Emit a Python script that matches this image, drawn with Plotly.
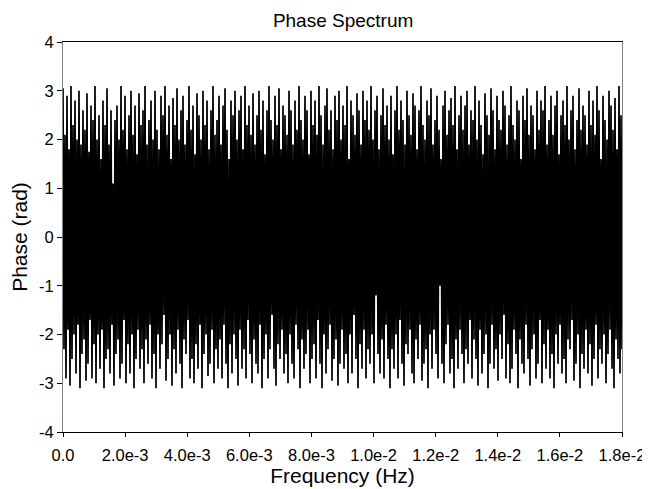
import numpy as np
import plotly.graph_objects as go

# Frequency range of the spectrum (Hz)
f_start = 0.0
f_stop = 0.018

# Upper excursions of the phase trace (rad), read left to right
phase_peaks = [
    3.05, 2.1, 2.9, 1.8, 3.1, 2.3, 2.8, 2.0, 3.0, 1.9, 2.6, 2.2, 2.95, 1.75, 2.7, 2.4, 3.1, 2.0, 2.5, 1.6,
    2.8, 2.3, 3.05, 1.9, 2.6, 1.1, 2.4, 2.7, 2.0, 3.1, 2.2, 2.9, 1.8, 2.5, 3.0, 2.1, 2.7, 1.7, 2.95, 2.3,
    2.6, 3.1, 1.9, 2.4, 2.8, 2.0, 3.0, 2.2, 1.8, 2.9, 2.5, 3.1, 2.1, 2.7, 1.6, 2.85, 2.3, 3.05, 2.0, 2.6,
    2.9, 1.9, 2.4, 3.1, 2.2, 2.7, 1.7, 2.95, 2.5, 2.0, 3.0, 2.3, 2.8, 1.8, 2.6, 3.1, 2.1, 2.4, 2.9, 1.9,
    2.7, 3.05, 2.2, 1.6, 2.8, 2.5, 3.0, 2.0, 2.6, 2.9, 1.8, 3.1, 2.3, 2.7, 2.1, 2.95, 1.9, 2.5, 3.0, 2.2,
    2.8, 1.7, 2.6, 3.1, 2.4, 2.0, 2.9, 2.3, 3.05, 1.8, 2.7, 2.5, 2.1, 3.0, 2.6, 1.9, 2.8, 2.2, 3.1, 2.4,
    2.0, 2.9, 2.6, 1.7, 3.0, 2.3, 2.8, 2.1, 3.1, 2.5, 1.9, 2.7, 3.05, 2.2, 2.6, 1.8, 2.9, 2.4, 3.0, 2.0,
    2.7, 2.3, 3.1, 1.6, 2.8, 2.5, 2.1, 2.95, 2.6, 1.9, 3.0, 2.4, 2.8, 2.2, 3.1, 2.0, 2.6, 2.9, 1.8, 2.5,
    3.05, 2.3, 2.7, 2.0, 2.9, 1.7, 2.6, 3.1, 2.2, 2.8, 2.4, 1.9, 3.0, 2.5, 2.1, 2.95, 2.7, 1.8, 2.6, 3.1,
    2.3, 2.0, 2.8, 2.5, 3.05, 1.9, 2.4, 2.9, 2.2, 1.6, 2.7, 3.0, 2.1, 2.6, 2.85, 2.3, 3.1, 1.8, 2.5, 2.9,
    2.2, 2.7, 3.0, 1.9, 2.6, 2.4, 3.1, 2.0, 2.8, 2.3, 1.7, 2.95, 2.5, 2.1, 3.05, 2.6, 1.8, 2.9, 2.4, 2.2,
    3.0, 2.7, 1.9, 2.5, 3.1, 2.3, 2.0, 2.8, 2.6, 1.6, 2.9, 2.4, 3.05, 2.1, 2.7, 2.5, 1.8, 3.0, 2.2, 2.8,
    2.6, 3.1, 1.9, 2.4, 2.9, 2.1, 2.7, 3.0, 1.7, 2.5, 2.8, 2.3, 3.1, 2.0, 2.6, 2.9, 1.8, 2.4, 3.05, 2.2,
    2.7, 2.5, 1.9, 3.0, 2.3, 2.8, 2.1, 3.1, 2.6, 1.6, 2.9, 2.4, 2.0, 3.0, 2.7, 2.2, 2.85, 1.8, 3.1, 2.5,
]

# Lower excursions of the phase trace (rad), read left to right
phase_troughs = [
    -2.3, -2.9, -1.9, -3.05, -2.5, -2.0, -2.8, -1.8, -3.1, -2.4, -2.1, -2.95, -2.6, -1.7, -2.9, -2.2, -3.0, -2.0, -2.7, -1.9,
    -3.1, -2.5, -2.3, -2.8, -1.8, -3.05, -2.4, -2.1, -2.9, -2.6, -1.7, -3.0, -2.2, -2.8, -2.0, -3.1, -2.5, -1.9, -2.7, -2.3,
    -3.0, -2.1, -2.6, -1.8, -2.9, -2.4, -3.1, -2.0, -2.7, -2.2, -1.6, -2.95, -2.5, -2.0, -3.05, -2.3, -2.8, -1.9, -2.6, -3.1,
    -2.1, -2.4, -1.7, -2.9, -2.5, -3.0, -2.2, -2.7, -1.8, -3.1, -2.4, -2.0, -2.85, -2.6, -1.9, -3.0, -2.3, -2.7, -2.1, -2.9,
    -1.8, -2.6, -3.1, -2.2, -2.8, -2.0, -2.5, -3.05, -1.9, -2.7, -2.3, -2.9, -1.7, -2.4, -3.0, -2.1, -2.6, -2.8, -1.8, -3.1,
    -2.5, -2.0, -2.9, -2.3, -1.6, -2.7, -3.05, -2.2, -2.5, -1.9, -2.8, -2.4, -3.0, -2.0, -2.6, -2.9, -1.8, -2.3, -3.1, -2.1,
    -2.7, -2.4, -1.9, -3.0, -2.5, -2.2, -2.9, -1.7, -2.6, -3.1, -2.0, -2.8, -2.3, -1.8, -2.95, -2.5, -2.1, -3.05, -2.6, -1.9,
    -2.7, -2.4, -3.0, -2.0, -2.8, -1.6, -2.5, -3.1, -2.2, -2.7, -1.9, -2.9, -2.3, -2.6, -2.0, -3.0, -1.2, -2.4, -2.8, -2.1,
    -2.9, -1.8, -2.5, -3.1, -2.3, -2.7, -2.0, -2.9, -1.7, -2.6, -3.05, -2.2, -2.4, -1.9, -2.8, -3.0, -2.1, -2.5, -1.8, -2.95,
    -2.6, -2.3, -3.1, -2.0, -2.7, -1.9, -2.4, -2.9, -1.0, -2.6, -3.0, -2.2, -1.8, -2.8, -2.5, -3.1, -2.1, -2.7, -1.9, -2.4,
    -3.0, -2.3, -2.6, -1.7, -2.9, -2.1, -2.5, -3.05, -1.9, -2.8, -2.4, -2.0, -3.1, -2.6, -1.8, -2.7, -2.3, -2.95, -2.0, -2.5,
    -1.6, -2.9, -2.2, -3.0, -2.7, -1.9, -2.4, -3.1, -2.1, -2.6, -2.8, -1.8, -2.5, -3.05, -2.3, -2.0, -2.9, -2.6, -1.7, -3.0,
    -2.2, -2.7, -1.9, -2.9, -2.4, -3.1, -2.0, -2.6, -1.8, -2.8, -2.5, -3.0, -2.1, -2.3, -1.7, -2.95, -2.6, -2.0, -3.1, -2.4,
    -2.7, -1.9, -2.8, -2.2, -3.05, -2.5, -1.8, -2.9, -2.3, -2.6, -2.0, -3.0, -2.4, -1.9, -2.7, -3.1, -2.1, -2.5, -2.8, -2.3,
]

x_tick_vals = [0.0, 0.002, 0.004, 0.006, 0.008, 0.010, 0.012, 0.014, 0.016, 0.018]
x_tick_text = ["0.0", "2.0e-3", "4.0e-3", "6.0e-3", "8.0e-3", "1.0e-2", "1.2e-2", "1.4e-2", "1.6e-2", "1.8e-2"]
y_tick_vals = [-4, -3, -2, -1, 0, 1, 2, 3, 4]
y_tick_text = ["-4", "-3", "-2", "-1", "0", "1", "2", "3", "4"]

# Interleave peaks and troughs into one trace, on evenly spaced frequency bins
phase = []
for p, t in zip(phase_peaks, phase_troughs):
    phase.append(p)
    phase.append(t)
freq = np.linspace(f_start, f_stop, len(phase))

font_family = "Liberation Sans, Arial, sans-serif"

fig = go.Figure()
fig.add_trace(go.Scatter(
    x=freq, y=phase, mode="lines",
    line=dict(color="black", width=1.7),
    showlegend=False, hoverinfo="skip",
))

# the page body adds an 8px offset, so the figure is sized 642x481
fig.update_layout(
    width=642, height=481,
    margin=dict(l=55, r=28, t=34, b=57),
    paper_bgcolor="white", plot_bgcolor="white",
    font=dict(family=font_family, color="black"),
    title=dict(text="Phase Spectrum", x=0.522, xanchor="center", y=0.974, yanchor="middle",
               font=dict(size=19, family=font_family, color="black")),
)
fig.update_xaxes(
    range=[0, 0.018], tickvals=x_tick_vals, ticktext=x_tick_text,
    automargin=False,
    showgrid=False, zeroline=False,
    showline=True, linecolor="black", linewidth=1, mirror=True,
    ticks="outside", ticklen=4, tickcolor="black",
    ticklabelstandoff=4,
    tickfont=dict(size=16.5, family=font_family, color="black"),
    title=dict(text="Frequency (Hz)", font=dict(size=21, family=font_family, color="black"), standoff=2),
)
fig.update_yaxes(
    range=[-4, 4], tickvals=y_tick_vals, ticktext=y_tick_text,
    automargin=False,
    showgrid=False, zeroline=False,
    showline=True, linecolor="#808080", linewidth=1, mirror=True,
    ticks="outside", ticklen=5, tickcolor="black",
    tickfont=dict(size=16.5, family=font_family, color="black"),
    title=dict(text="Phase (rad)", font=dict(size=21, family=font_family, color="black"), standoff=12),
)

fig.write_html("out.html")
